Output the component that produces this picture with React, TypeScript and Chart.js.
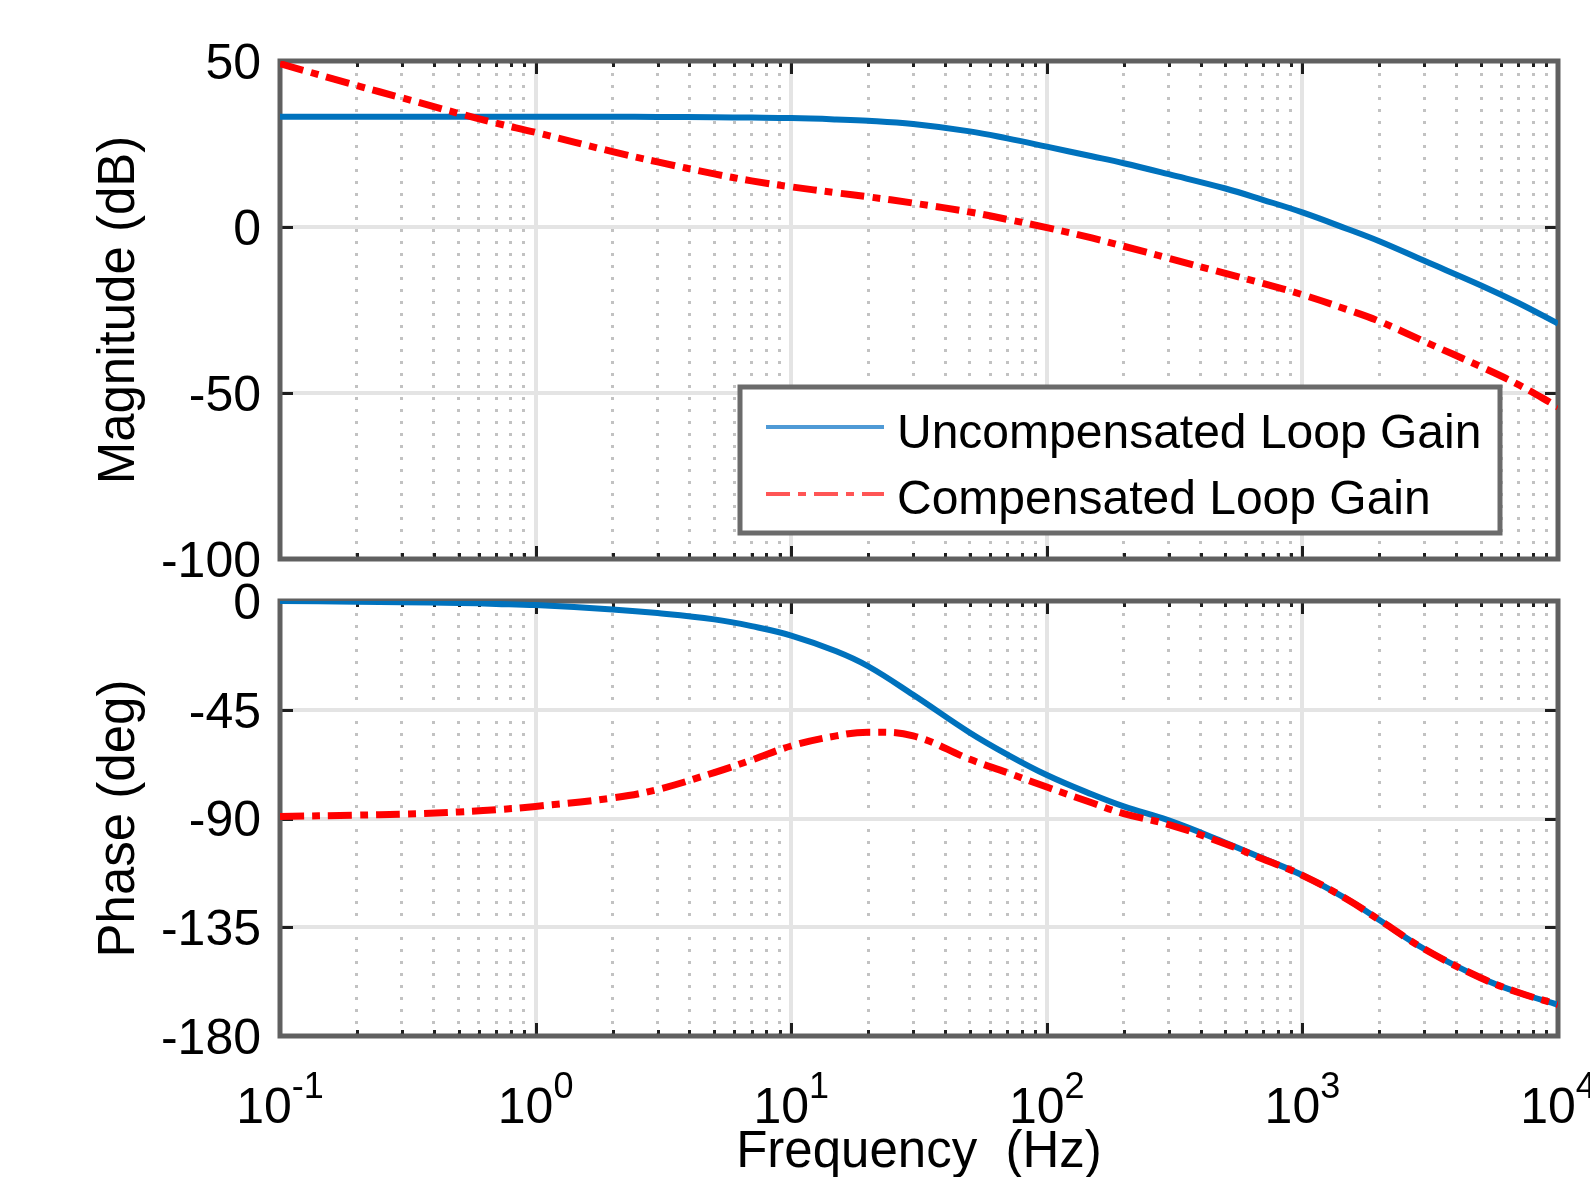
import React, { useEffect, useRef } from 'react';
import { Chart, registerables } from 'chart.js';

Chart.register(...registerables);

// ---------- data ----------
const freqHz = [0.1, 0.2, 0.3, 0.5, 0.7, 1, 2, 3, 5, 7, 10, 15, 20, 30, 50, 70, 100, 150, 200, 300, 500, 700, 1000, 1500, 2000, 3000, 5000, 7000, 10000];

const uncompMagDb = [33.2, 33.2, 33.2, 33.2, 33.2, 33.2, 33.2, 33.15, 33.05, 32.95, 32.8, 32.4, 32.0, 31.0, 28.8, 26.7, 24.2, 21.3, 19.2, 15.9, 11.6, 8.2, 4.4, -0.6, -4.3, -10.2, -17.6, -22.9, -29.1];
const compMagDb = [49.2, 42.6, 38.9, 34.2, 31.3, 28.5, 22.7, 19.6, 16.0, 13.9, 12.1, 10.3, 9.1, 7.2, 4.5, 2.3, -0.2, -3.3, -5.8, -9.4, -14.0, -17.0, -20.4, -24.9, -28.4, -34.5, -42.1, -47.5, -54.2];

const uncompPhaseDeg = [0, -0.3, -0.5, -0.8, -1.2, -1.7, -3.5, -5.0, -7.6, -10.4, -14.3, -20.8, -27.0, -38.8, -54.5, -63.5, -72.0, -80.0, -85.0, -90.8, -100.0, -106.5, -113.5, -123.5, -132.0, -144.0, -156.0, -162.0, -167.0];
const compPhaseDeg = [-89.2, -88.6, -88.2, -87.3, -86.4, -85.0, -81.5, -78.0, -71.0, -65.8, -60.0, -55.8, -54.3, -55.8, -65.5, -71.0, -77.0, -83.5, -88.0, -92.5, -100.5, -106.8, -113.5, -123.5, -132.0, -144.0, -156.0, -162.0, -167.0];

const seriesNames = ['Uncompensated Loop Gain', 'Compensated Loop Gain'];

const magTicks = [-100, -50, 0, 50];
const magTickLabels = ['-100', '-50', '0', '50'];
const phaseTicks = [-180, -135, -90, -45, 0];
const phaseTickLabels = ['-180', '-135', '-90', '-45', '0'];

const freqDecades = [0.1, 1, 10, 100, 1000, 10000];
const freqTickBase = '10';
const freqTickExponents = ['-1', '0', '1', '2', '3', '4'];
const minorMultipliers = [2, 3, 4, 5, 6, 7, 8, 9];

const magTitle = 'Magnitude (dB)';
const phaseTitle = 'Phase (deg)';
const freqTitle = 'Frequency  (Hz)';

// ---------- styling ----------
const FONT = '"Liberation Sans", Arial, Helvetica, sans-serif';
const BLUE = '#0072BD';
const RED = '#FF0000';
const RED_DASH = [24, 8, 8, 8];

const isDecade = (v: number) => {
  const l = Math.log10(v);
  return Math.abs(l - Math.round(l)) < 1e-9;
};

const allFreqTicks: number[] = [];
freqDecades.forEach((d, i) => {
  allFreqTicks.push(d);
  if (i < freqDecades.length - 1) {
    minorMultipliers.forEach((m) => allFreqTicks.push(parseFloat((d * m).toPrecision(6))));
  }
});

const framePlugin = {
  id: 'matlabFrame',
  beforeDatasetsDraw(chart: any) {
    const { ctx, chartArea: a, scales } = chart;
    const x = scales.x;
    const y = scales.y;
    ctx.save();
    ctx.strokeStyle = '#1e1e1e';
    ctx.lineWidth = 3;
    ctx.beginPath();
    allFreqTicks.forEach((v) => {
      const px = Math.round(x.getPixelForValue(v)) + 0.5;
      const len = isDecade(v) ? 13 : 6;
      ctx.moveTo(px, a.top);
      ctx.lineTo(px, a.top + len);
      ctx.moveTo(px, a.bottom);
      ctx.lineTo(px, a.bottom - len);
    });
    y.ticks.forEach((t: any) => {
      const py = Math.round(y.getPixelForValue(t.value)) + 0.5;
      ctx.moveTo(a.left, py);
      ctx.lineTo(a.left + 13, py);
      ctx.moveTo(a.right, py);
      ctx.lineTo(a.right - 13, py);
    });
    ctx.stroke();
    ctx.strokeStyle = '#606060';
    ctx.lineWidth = 5;
    ctx.strokeRect(a.left, a.top, a.right - a.left, a.bottom - a.top);
    ctx.restore();
  },
};

const legendPlugin = {
  id: 'boxLegend',
  afterDatasetsDraw(chart: any) {
    const { ctx, chartArea: a } = chart;
    const left = a.left + 460;
    const top = a.top + 326;
    const w = 760;
    const h = 146;
    ctx.save();
    ctx.fillStyle = '#ffffff';
    ctx.fillRect(left, top, w, h);
    ctx.strokeStyle = '#6b6b6b';
    ctx.lineWidth = 5;
    ctx.strokeRect(left, top, w, h);

    const rows = [
      { name: seriesNames[0], color: '#4f9ad6', dash: [] as number[], lineY: top + 40, textY: top + 61 },
      { name: seriesNames[1], color: '#ff5555', dash: RED_DASH, lineY: top + 107, textY: top + 127 },
    ];
    rows.forEach((r) => {
      ctx.beginPath();
      ctx.setLineDash(r.dash);
      ctx.lineCap = 'butt';
      ctx.strokeStyle = r.color;
      ctx.lineWidth = 4;
      ctx.moveTo(left + 26, r.lineY);
      ctx.lineTo(left + 144, r.lineY);
      ctx.stroke();
      ctx.setLineDash([]);
      ctx.fillStyle = '#000';
      ctx.font = `48px ${FONT}`;
      ctx.textAlign = 'left';
      ctx.textBaseline = 'alphabetic';
      ctx.fillText(r.name, left + 157, r.textY);
    });
    ctx.restore();
  },
};

const freqLabelPlugin = {
  id: 'freqLabels',
  afterDraw(chart: any) {
    const { ctx, chartArea: a, scales } = chart;
    const x = scales.x;
    const baseY = a.bottom + 87;
    ctx.save();
    ctx.fillStyle = '#000';
    ctx.textAlign = 'left';
    ctx.textBaseline = 'alphabetic';
    freqDecades.forEach((v, i) => {
      const px = x.getPixelForValue(v);
      ctx.font = `50px ${FONT}`;
      const w1 = ctx.measureText(freqTickBase).width;
      ctx.font = `36px ${FONT}`;
      const w2 = ctx.measureText(freqTickExponents[i]).width;
      const start = px - (w1 + w2) / 2;
      ctx.font = `50px ${FONT}`;
      ctx.fillText(freqTickBase, start, baseY);
      ctx.font = `36px ${FONT}`;
      ctx.fillText(freqTickExponents[i], start + w1, baseY - 25);
    });
    ctx.restore();
  },
};

function makeDatasets(uncomp: number[], comp: number[]) {
  return [
    {
      label: seriesNames[0],
      data: freqHz.map((f, i) => ({ x: f, y: uncomp[i] })),
      borderColor: BLUE,
      backgroundColor: BLUE,
      borderWidth: 6,
      pointRadius: 0,
      tension: 0.4,
      borderCapStyle: 'butt' as const,
      fill: false,
      order: 1,
    },
    {
      label: seriesNames[1],
      data: freqHz.map((f, i) => ({ x: f, y: comp[i] })),
      borderColor: RED,
      backgroundColor: RED,
      borderWidth: 7,
      borderDash: RED_DASH,
      pointRadius: 0,
      tension: 0.4,
      borderCapStyle: 'butt' as const,
      fill: false,
      order: 0,
    },
  ];
}

function xScale(showTitle: boolean, height: number) {
  return {
    type: 'logarithmic' as const,
    min: 0.1,
    max: 10000,
    afterBuildTicks: (s: any) => {
      s.ticks = allFreqTicks.map((v) => ({ value: v }));
    },
    ticks: { display: false },
    grid: {
      drawTicks: false,
      color: (c: any) => (c.tick && !isDecade(c.tick.value) ? '#c2c2c2' : '#e4e4e4'),
      lineWidth: (c: any) => (c.tick && !isDecade(c.tick.value) ? 3 : 4),
    },
    border: {
      display: false,
      dash: (c: any) => (c.tick && !isDecade(c.tick.value) ? [3, 9] : []),
    },
    title: {
      display: showTitle,
      text: freqTitle,
      color: '#000',
      font: { family: FONT, size: 51 },
      padding: { top: 0, bottom: 26 },
    },
    afterFit: (s: any) => {
      s.height = height;
      s.paddingLeft = 0;
      s.paddingRight = 0;
    },
  };
}

function yScale(min: number, max: number, ticks: number[], labels: string[], title: string) {
  return {
    type: 'linear' as const,
    min,
    max,
    afterBuildTicks: (s: any) => {
      s.ticks = ticks.map((v) => ({ value: v }));
    },
    ticks: {
      autoSkip: false,
      color: '#000',
      font: { family: FONT, size: 50 },
      padding: 19,
      labelOffset: 4,
      callback: (v: any) => {
        const idx = ticks.indexOf(Number(v));
        return idx >= 0 ? labels[idx] : '';
      },
    },
    grid: { drawTicks: false, color: '#e4e4e4', lineWidth: 4 },
    border: { display: false },
    title: {
      display: true,
      text: title,
      color: '#000',
      font: { family: FONT, size: 51 },
      padding: { top: 89, bottom: 0 },
    },
    afterFit: (s: any) => {
      s.width = 280;
      s.paddingTop = 0;
      s.paddingBottom = 0;
    },
  };
}

export default function App() {
  const magRef = useRef<HTMLCanvasElement>(null);
  const phaseRef = useRef<HTMLCanvasElement>(null);

  useEffect(() => {
    const common = {
      animation: false as const,
      responsive: false,
      maintainAspectRatio: false,
      events: [] as any[],
      plugins: { legend: { display: false }, tooltip: { enabled: false } },
    };

    const magChart = new Chart(magRef.current as HTMLCanvasElement, {
      type: 'line',
      data: { datasets: makeDatasets(uncompMagDb, compMagDb) as any },
      options: {
        ...common,
        layout: { padding: { top: 61, right: 32, bottom: 31, left: 0 } },
        scales: {
          x: xScale(false, 0) as any,
          y: yScale(-100, 50, magTicks, magTickLabels, magTitle) as any,
        },
      } as any,
      plugins: [framePlugin, legendPlugin],
    });

    const phaseChart = new Chart(phaseRef.current as HTMLCanvasElement, {
      type: 'line',
      data: { datasets: makeDatasets(uncompPhaseDeg, compPhaseDeg) as any },
      options: {
        ...common,
        layout: { padding: { top: 31, right: 32, bottom: 0, left: 0 } },
        scales: {
          x: xScale(true, 174) as any,
          y: yScale(-180, 0, phaseTicks, phaseTickLabels, phaseTitle) as any,
        },
      } as any,
      plugins: [framePlugin, freqLabelPlugin],
    });

    return () => {
      magChart.destroy();
      phaseChart.destroy();
    };
  }, []);

  return (
    <div
      style={{
        position: 'fixed',
        left: 0,
        top: 0,
        width: 1590,
        height: 1177,
        overflow: 'hidden',
        background: '#ffffff',
      }}
    >
      <canvas
        ref={magRef}
        width={1590}
        height={590}
        style={{ position: 'absolute', left: 0, top: 0, width: 1590, height: 590 }}
      />
      <canvas
        ref={phaseRef}
        width={1590}
        height={640}
        style={{ position: 'absolute', left: 0, top: 570, width: 1590, height: 640 }}
      />
    </div>
  );
}
